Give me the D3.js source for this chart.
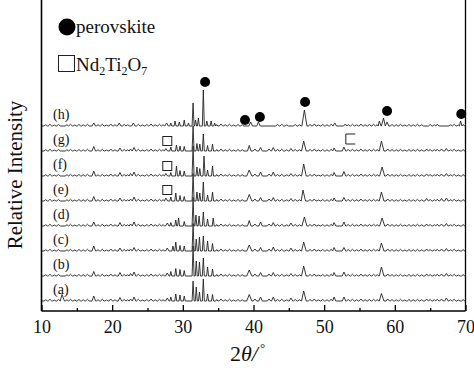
<!DOCTYPE html>
<html><head><meta charset="utf-8">
<script src="https://cdn.jsdelivr.net/npm/d3@7"></script>
<style>body{margin:0;background:#fff}svg{display:block}text{font-family:"Liberation Serif","Times New Roman",serif;fill:#111}</style>
</head><body><svg id="c" width="474" height="370"></svg>
<script>
// ---- data ----
const traceLabels = ["(a)","(b)","(c)","(d)","(e)","(f)","(g)","(h)"];
const traceOffsets = [0,100,200,300,400,500,600,700];
const xTicks = [10,20,30,40,50,60,70];
const xMinorTicks = [15,25,35,45,55,65];
// small background bumps shared by all traces: [2theta, height]
const minorBumps = [[10.6,5],[11.2,7],[11.8,4],[12.4,6],[13.6,5],[14.1,7],[14.7,4],[15.3,6],[15.9,5],[16.5,7],[18.0,5],[18.6,7],[19.2,4],[19.8,8],[20.4,5],[21.7,6],[22.2,5],[23.7,7],[24.3,4],[24.9,6],[25.5,8],[26.1,5],[26.7,7],[27.2,5],[34.8,6],[35.4,8],[36.0,5],[36.6,7],[37.2,4],[37.8,6],[38.4,5],[43.4,6],[44.0,7],[44.7,5],[45.9,6],[46.5,5],[48.0,6],[48.6,8],[49.2,4],[49.8,6],[50.4,5],[51.0,7],[53.4,6],[54.0,7],[54.6,5],[55.2,8],[55.8,5],[56.4,6],[57.0,7],[57.5,5],[59.6,6],[60.2,5],[60.8,7],[61.4,4],[62.0,6],[62.6,5],[63.2,7],[63.8,5],[65.0,6],[65.6,5],[66.0,7],[67.9,5],[68.4,7],[69.0,4],[69.7,6]];
const peaksA = [[12.9,26],[17.4,20],[21.1,14],[22.6,8],[23.1,16],[27.8,12],[28.3,16],[29.0,28],[29.6,24],[30.2,20],[31.45,80],[31.9,56],[32.35,36],[32.9,88],[33.5,28],[34.2,26],[39.4,26],[40.2,8],[41.0,16],[42.2,8],[42.8,16],[45.3,12],[47.1,40],[51.4,16],[52.8,16],[58.1,30],[59.0,8],[64.5,8],[66.6,8],[67.3,12]];
const peaksB = [[17.4,18],[21.1,14],[22.6,10],[23.1,16],[27.8,12],[28.3,18],[29.0,30],[29.6,26],[30.2,22],[31.45,120],[31.9,60],[32.35,56],[32.9,72],[33.5,36],[34.2,28],[39.4,24],[40.2,8],[41.0,14],[42.2,8],[42.8,14],[45.3,10],[47.1,40],[51.4,14],[52.8,16],[58.1,36],[59.0,8],[64.5,8],[66.6,8],[67.3,10]];
const peaksC = [[17.4,20],[21.1,12],[22.6,8],[23.1,14],[27.8,12],[28.6,20],[29.0,36],[29.6,22],[30.2,20],[31.45,110],[31.9,48],[32.35,56],[32.9,60],[33.5,40],[34.2,30],[39.4,24],[40.2,8],[41.0,14],[42.2,8],[42.8,16],[45.3,12],[47.1,36],[51.4,14],[52.8,14],[58.1,32],[59.0,8],[64.5,8],[66.6,8],[67.3,10]];
const peaksD = [[17.4,16],[21.1,14],[22.6,8],[23.1,16],[27.8,12],[28.3,14],[29.0,24],[29.4,32],[30.2,18],[31.45,115],[31.85,44],[32.3,40],[32.9,56],[33.5,28],[34.3,32],[39.4,22],[40.2,8],[41.0,16],[42.2,8],[42.8,14],[45.3,12],[47.2,36],[51.4,14],[52.8,16],[58.2,32],[59.0,8],[64.5,8],[66.6,8],[67.3,10]];
const peaksE = [[17.4,18],[21.1,12],[22.6,8],[23.1,16],[27.6,12],[28.3,16],[29.0,32],[29.6,22],[30.2,18],[31.45,110],[32.0,36],[32.4,32],[32.9,76],[33.5,24],[34.2,36],[39.4,26],[40.2,8],[41.0,14],[42.2,8],[42.8,14],[45.3,10],[47.0,44],[51.4,12],[52.8,14],[58.1,36],[59.0,8],[64.5,10],[66.6,10],[67.3,12]];
const peaksF = [[17.4,20],[21.1,14],[22.6,10],[23.1,16],[27.6,10],[28.3,14],[29.1,40],[29.6,22],[30.2,20],[31.45,120],[32.0,36],[32.4,30],[33.0,80],[33.5,24],[34.2,40],[39.4,24],[40.2,8],[41.0,16],[42.2,8],[42.8,16],[45.3,10],[47.1,48],[51.4,14],[52.8,18],[58.2,36],[59.0,8],[64.5,8],[66.6,8],[67.3,10]];
const peaksG = [[17.4,18],[21.1,12],[22.6,8],[23.1,14],[27.6,10],[28.3,16],[29.1,24],[29.6,20],[30.2,18],[31.45,100],[32.0,30],[32.4,28],[32.9,68],[33.5,22],[34.2,28],[39.4,22],[40.2,8],[41.0,14],[42.2,8],[42.8,14],[45.3,10],[47.1,40],[51.4,12],[52.8,16],[58.1,40],[59.0,8],[64.5,8],[66.6,8],[67.3,10]];
const peaksH = [[17.4,12],[21.0,12],[23.0,12],[27.7,12],[28.3,12],[28.9,20],[29.5,16],[30.2,24],[30.8,12],[31.45,92],[31.8,24],[32.2,32],[32.9,144],[33.4,20],[34.0,20],[34.5,12],[39.6,16],[40.7,16],[47.2,64],[51.5,12],[53.0,8],[57.8,20],[58.4,32],[58.9,16],[69.3,20]];
const tracePeaks = [peaksA,peaksB,peaksC,peaksD,peaksE,peaksF,peaksG,peaksH];
// phase markers
const perovskiteMarks = [[33.15,876],[38.8,724],[40.9,736],[47.3,796],[58.9,760],[69.4,748]];
const pyroMarks = [[27.8,640],[27.8,540],[27.8,444]];
const pyroOpenMark = [[53.7,648]];

// ---- scales ----
const svg = d3.select("#c");
const x = d3.scaleLinear().domain([10,70]).range([41.5,465.5]);
const y = d3.scaleLinear().domain([-40,1204]).range([311,0]);

function tracePoints(peaks, base){
  const all = peaks.concat(minorBumps).slice().sort((a,b)=>a[0]-b[0]);
  const pts = [[10, base]];
  all.forEach((p,i)=>{
    const w = (p[0] > 28 && p[0] < 35) ? 0.14 : (p[1] >= 24 ? 0.36 : 0.25);
    const prev = i>0 ? all[i-1][0] : 10;
    const next = i<all.length-1 ? all[i+1][0] : 70;
    pts.push([Math.max(p[0]-w,(prev+p[0])/2), base]);
    pts.push([p[0], base+p[1]]);
    pts.push([Math.min(p[0]+w,(p[0]+next)/2), base]);
  });
  pts.push([70, base]);
  return pts;
}
const line = d3.line().x(d=>x(d[0])).y(d=>y(d[1]));

const g = svg.append("g");
tracePeaks.forEach((pk,i)=>{
  g.append("path").attr("d", line(tracePoints(pk, traceOffsets[i])))
    .attr("fill","none").attr("stroke","#222").attr("stroke-width",0.9).attr("stroke-linejoin","round");
  g.append("text").attr("x", 53).attr("y", y(traceOffsets[i]) - 7)
    .attr("font-size", 14).text(traceLabels[i]);
});

// markers
g.selectAll("circle.pm").data(perovskiteMarks).join("circle").attr("class","pm")
  .attr("cx",d=>x(d[0])).attr("cy",d=>y(d[1])).attr("r",5).attr("fill","#000");
g.selectAll("rect.nm").data(pyroMarks).join("rect").attr("class","nm")
  .attr("x",d=>x(d[0])-4.5).attr("y",d=>y(d[1])-4.5).attr("width",9).attr("height",9)
  .attr("fill","#fff").attr("stroke","#222").attr("stroke-width",1);
g.selectAll("path.nm2").data(pyroOpenMark).join("path").attr("class","nm2")
  .attr("d",d=>{const cx=x(d[0]), cy=y(d[1]); return `M${cx+5},${cy-5}H${cx-4.5}V${cy+5}H${cx+5}`;})
  .attr("fill","none").attr("stroke","#222").attr("stroke-width",1);

// axes
const ax = svg.append("g").attr("transform","translate(0,311)")
  .call(d3.axisBottom(x).tickValues(xTicks).tickSize(-6).tickPadding(9).tickFormat(d3.format("d")))
  .attr("font-family","Liberation Serif");
ax.select(".domain").remove();
ax.selectAll("line").attr("stroke","#000").attr("stroke-width",1.3);
ax.selectAll("text").attr("font-size",18).attr("fill","#111").style("font-family","Liberation Serif");
const axm = svg.append("g").attr("transform","translate(0,311)")
  .call(d3.axisBottom(x).tickValues(xMinorTicks).tickSize(-3).tickFormat(""));
axm.select(".domain").remove();
axm.selectAll("line").attr("stroke","#000").attr("stroke-width",1.3);

svg.append("line").attr("x1",41.5).attr("x2",465.5).attr("y1",311).attr("y2",311).attr("stroke","#000").attr("stroke-width",1.6);
svg.append("line").attr("x1",41.5).attr("x2",41.5).attr("y1",0).attr("y2",311).attr("stroke","#000").attr("stroke-width",1.6);
svg.append("line").attr("x1",465.5).attr("x2",465.5).attr("y1",0).attr("y2",311).attr("stroke","#000").attr("stroke-width",1.3);

// axis titles
svg.append("text").attr("transform","translate(22,175) rotate(-90)").attr("text-anchor","middle")
  .attr("font-size",21).text("Relative Intensity");
const xt = svg.append("text").attr("x",230).attr("y",361).attr("font-size",22);
xt.append("tspan").text("2");
xt.append("tspan").attr("font-style","italic").text("θ/");
xt.append("tspan").attr("font-size",13).attr("dy",-9).attr("dx",2).text("°");

// legend
svg.append("circle").attr("cx",67).attr("cy",27).attr("r",8.5).attr("fill","#000");
svg.append("text").attr("x",76).attr("y",33).attr("font-size",19).text("perovskite");
svg.append("rect").attr("x",58.5).attr("y",55.5).attr("width",16).attr("height",16).attr("fill","#fff").attr("stroke","#222").attr("stroke-width",1);
const lt = svg.append("text").attr("x",76).attr("y",71).attr("font-size",19);
lt.append("tspan").text("Nd");
lt.append("tspan").attr("font-size",12).attr("dy",4).text("2");
lt.append("tspan").attr("dy",-4).text("Ti");
lt.append("tspan").attr("font-size",12).attr("dy",4).text("2");
lt.append("tspan").attr("dy",-4).text("O");
lt.append("tspan").attr("font-size",12).attr("dy",4).text("7");
</script></body></html>
